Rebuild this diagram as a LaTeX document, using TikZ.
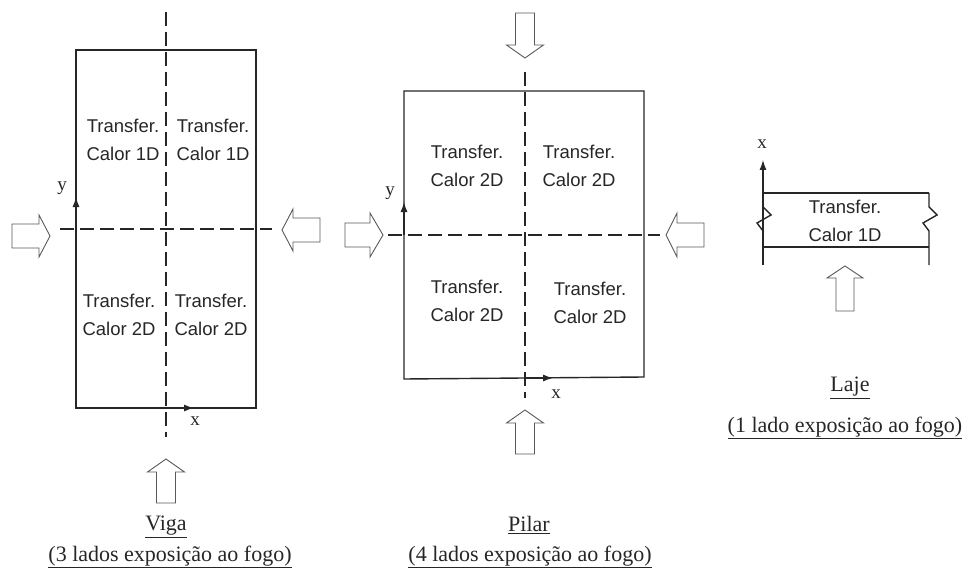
\documentclass[tikz,border=0pt]{standalone}
\usepackage{fontspec}
\setmainfont{Liberation Serif}
\newfontfamily\sansf{Liberation Sans}
\usetikzlibrary{arrows.meta}
\tikzset{
  member/.style={line width=1.4pt, black!85},
  axisline/.style={line width=1.2pt, black!85, dash pattern=on 14pt off 6pt},
  axisarrow/.style={line width=1.2pt, black!85, -{Latex[length=10pt,width=7pt]}},
  farrow/.style={line width=0.9pt, black!65, fill=white, line join=miter},
  heat/.style={font=\sansf\fontsize{18.5}{28}\selectfont, align=center, text=black!85, inner sep=0pt},
  axlabel/.style={font=\fontsize{19}{19}\selectfont, inner sep=0pt, text=black!85},
  caption/.style={font=\fontsize{22}{24}\selectfont, inner sep=0pt, text=black!85}
}
% hollow block arrow: tip x, tip y, angle, length, shaft width, head width, head length
\newcommand{\farr}[7]{%
  \begin{scope}[shift={(#1,#2)}, rotate=#3]
    \draw[farrow] (0,0) -- (-#7,#6/2) -- (-#7,#5/2) -- (-#4,#5/2) -- (-#4,-#5/2)
      -- (-#7,-#5/2) -- (-#7,-#6/2) -- cycle;
  \end{scope}}
\begin{document}
\begin{tikzpicture}[x=1pt, y=-1pt]
\useasboundingbox (0,0) rectangle (971,572);
% ================= VIGA =================
\coordinate (vTL) at (76,50); \coordinate (vTR) at (256,50);
\coordinate (vBR) at (256,408); \coordinate (vBL) at (76,408);
\draw[member] (vTL) -- (vTR) -- (vBR) -- (vBL) -- cycle;
\coordinate (vVt) at (166,12); \coordinate (vVb) at (166,437);
\coordinate (vHl) at (60,229); \coordinate (vHr) at (272,229);
\draw[axisline] (vVt) -- (vVb);
\draw[axisline] (vHl) -- (vHr);
\coordinate (vYo) at (76,229); \coordinate (vYt) at (76,197);
\draw[axisarrow] (vYo) -- (vYt);
\coordinate (vXo) at (166,408); \coordinate (vXt) at (194,408);
\draw[axisarrow] (vXo) -- (vXt);
\node[axlabel] (vy) at (62,188) {y};
\node[axlabel] (vx) at (195,421) {x};
\node[heat] (v1) at (123,140) {Transfer.\\Calor 1D};
\node[heat] (v2) at (213,140) {Transfer.\\Calor 1D};
\node[heat] (v3) at (119,315) {Transfer.\\Calor 2D};
\node[heat] (v4) at (211,315) {Transfer.\\Calor 2D};
\farr{50}{236}{0}{38}{24}{42}{11}
\farr{282}{230}{180}{38}{24}{42}{11}
\farr{166}{459}{90}{44}{19}{37}{13}
\node[caption] (vcap1) at (166,527) {\underline{Viga}};
\node[caption] (vcap2) at (170,557) {\underline{(3 lados exposição ao fogo)}};
% ================= PILAR =================
\coordinate (pTL) at (404,91); \coordinate (pTR) at (644,91);
\coordinate (pBR) at (644,377); \coordinate (pBL) at (404,379);
\draw[member] (pTL) -- (pTR) -- (pBR) -- (pBL) -- cycle;
\coordinate (pVt) at (525,72); \coordinate (pVb) at (525,398);
\coordinate (pHl) at (388,235); \coordinate (pHr) at (660,235);
\draw[axisline] (pVt) -- (pVb);
\draw[axisline] (pHl) -- (pHr);
\coordinate (pYo) at (404,235); \coordinate (pYt) at (404,202);
\draw[axisarrow] (pYo) -- (pYt);
\coordinate (pXo) at (525,378); \coordinate (pXt) at (553,378);
\draw[axisarrow] (pXo) -- (pXt);
\node[axlabel] (py) at (390,193) {y};
\node[axlabel] (px) at (556,394) {x};
\node[heat] (p1) at (467,166) {Transfer.\\Calor 2D};
\node[heat] (p2) at (579,166) {Transfer.\\Calor 2D};
\node[heat] (p3) at (467,301) {Transfer.\\Calor 2D};
\node[heat] (p4) at (590,303) {Transfer.\\Calor 2D};
\farr{383}{235}{0}{38}{24}{44}{13}
\farr{666}{235}{180}{38}{24}{44}{11}
\farr{525}{58}{270}{45}{19}{37}{13}
\farr{525}{410}{90}{44}{19}{37}{13}
\node[caption] (pcap1) at (529,525) {\underline{Pilar}};
\node[caption] (pcap2) at (530,557) {\underline{(4 lados exposição ao fogo)}};
% ================= LAJE =================
\coordinate (lAo) at (763,265); \coordinate (lAt) at (763,160);
\draw[axisarrow] (lAo) -- (lAt);
\node[axlabel] (lx) at (762,144) {x};
\coordinate (lTL) at (763,193); \coordinate (lTR) at (929,193);
\coordinate (lBL) at (763,247); \coordinate (lBR) at (929,247);
\draw[member] (lTL) -- (lTR);
\draw[member] (lBL) -- (lBR);
\draw[member] (929,193) -- (929,207) -- (937,215) -- (923,223) -- (929,231) -- (929,265);
\draw[member] (763,207) -- (771,215) -- (757,223) -- (763,231);
\node[heat] (l1) at (845,221) {Transfer.\\Calor 1D};
\farr{845}{266}{90}{45}{18}{36}{12}
\node[caption] (lcap1) at (850,388) {\underline{Laje}};
\node[caption] (lcap2) at (845,428) {\underline{(1 lado exposição ao fogo)}};
\end{tikzpicture}
\end{document}
